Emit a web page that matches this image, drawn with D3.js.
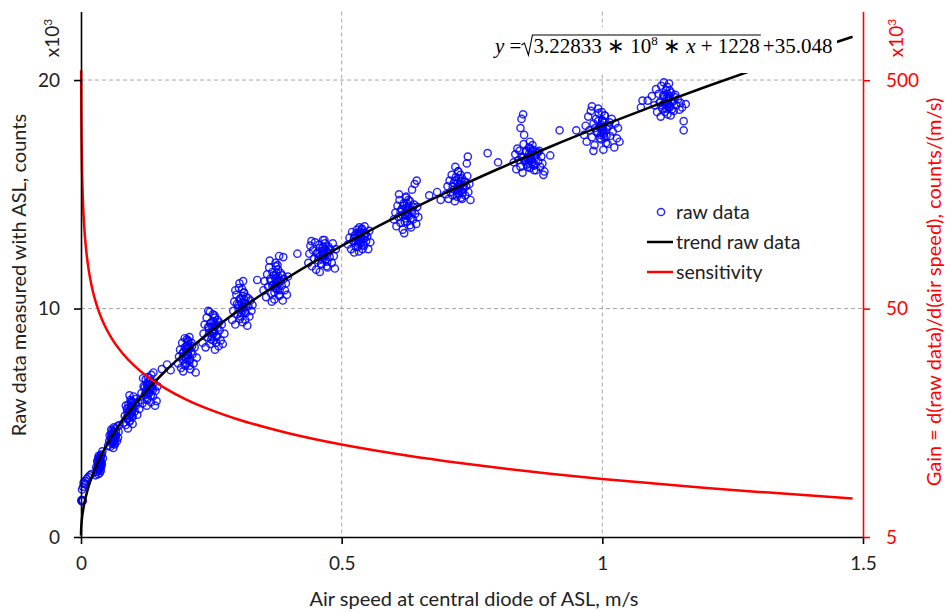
<!DOCTYPE html>
<html>
<head>
<meta charset="utf-8">
<script src="https://cdn.jsdelivr.net/npm/d3@7"></script>
<style>
  body { margin: 0; background: #fff; }
  text { font-family: Lato, "Open Sans", sans-serif; }
  text.eq { font-family: "Liberation Serif", "Times New Roman", serif; font-size: 21px; }
</style>
</head>
<body>
<svg id="chart" width="950" height="612"></svg>
<script>
// air speed (m/s) / raw data (x10^3 counts)
var rawPoints = [
  [0.001,1.58],[0.002,1.60],[0.002,1.57],[0.003,1.61],[0.001,1.62],[0.002,1.59],[0.003,1.58],
  [0.002,2.08],[0.004,2.2],[0.006,2.32],[0.008,2.45],[0.011,2.55],[0.014,2.62],[0.017,2.7],[0.005,2.38],[0.009,2.3],[0.02,2.75],
  [0.028,2.7],[0.030,2.85],[0.031,3.0],[0.033,3.1],[0.034,2.95],[0.035,3.25],[0.036,3.4],[0.037,3.15],[0.038,3.5],[0.039,3.3],
  [0.040,3.6],[0.041,3.75],[0.032,3.35],[0.036,2.8],[0.042,3.45],[0.034,3.55],[0.029,3.05],[0.038,2.9],[0.040,3.2],[0.033,2.75],
  [0.034,3.2],[0.035,3.1],[0.036,3.3],[0.035,3.0],[0.037,3.25],[0.033,3.15],[0.036,3.45],[0.034,2.9],
  [0.031,3.3],[0.039,3.1],[0.037,3.0],[0.033,3.45],[0.035,3.35],[0.038,3.6],[0.032,2.95],
  [0.052,4.0],[0.054,4.2],[0.056,3.95],[0.058,4.35],[0.060,4.5],[0.061,4.15],[0.063,4.6],[0.064,4.3],[0.066,4.75],[0.067,4.45],
  [0.069,4.2],[0.070,4.85],[0.072,4.6],[0.058,4.7],[0.055,4.45],[0.065,4.05],[0.071,4.35],[0.062,3.9],[0.074,4.9],
  [0.061,4.3],[0.063,4.4],[0.062,4.2],[0.060,4.35],[0.064,4.5],[0.062,4.55],[0.065,4.25],[0.059,4.1],
  [0.057,4.25],[0.067,4.6],[0.060,4.65],[0.064,4.1],[0.066,4.35],[0.058,4.5],[0.063,4.8],
  [0.082,5.0],[0.084,5.3],[0.086,4.9],[0.088,5.6],[0.089,5.2],[0.091,5.8],[0.092,5.45],[0.094,5.1],[0.095,6.0],[0.097,5.65],
  [0.098,5.3],[0.100,5.9],[0.101,6.15],[0.103,5.5],[0.105,5.75],[0.106,6.05],[0.108,5.35],[0.110,5.9],[0.090,4.75],[0.086,5.75],
  [0.099,4.95],[0.112,5.6],[0.093,6.2],
  [0.094,5.5],[0.096,5.4],[0.095,5.6],[0.093,5.3],[0.097,5.75],[0.092,5.2],[0.098,5.5],[0.096,5.85],
  [0.089,5.45],[0.101,5.7],[0.091,5.65],[0.099,5.25],[0.097,5.95],[0.093,5.05],[0.103,5.85],[0.087,5.2],
  [0.114,6.0],[0.116,6.3],[0.118,5.85],[0.120,6.6],[0.122,6.2],[0.124,6.9],[0.125,6.45],[0.127,6.0],[0.128,7.0],[0.130,6.65],
  [0.131,6.3],[0.133,6.85],[0.135,7.1],[0.136,6.5],[0.138,6.15],[0.140,6.75],[0.142,5.75],[0.143,6.4],[0.145,5.95],[0.147,6.6],
  [0.119,6.95],[0.126,5.75],[0.134,5.9],[0.139,7.2],
  [0.129,6.4],[0.131,6.5],[0.130,6.3],[0.128,6.6],[0.132,6.7],[0.127,6.25],[0.133,6.45],[0.130,6.8],
  [0.124,6.35],[0.136,6.6],[0.126,6.7],[0.134,6.2],[0.132,6.95],[0.122,6.55],[0.138,6.45],[0.128,6.1],
  [0.155,7.35],[0.165,7.55],[0.172,7.3],
  [0.186,7.6],[0.188,7.9],[0.190,8.2],[0.192,7.4],[0.194,8.5],[0.195,7.75],[0.197,8.1],[0.199,8.7],[0.200,7.5],[0.202,8.35],
  [0.204,7.95],[0.205,8.6],[0.207,7.7],[0.209,8.25],[0.210,7.35],[0.212,8.5],[0.214,8.0],[0.216,7.6],[0.218,8.3],[0.220,7.2],
  [0.222,7.85],[0.196,7.25],[0.208,8.75],
  [0.203,8.0],[0.205,8.1],[0.204,7.85],[0.202,8.2],[0.206,7.95],[0.201,7.8],[0.207,8.3],[0.204,8.4],
  [0.197,7.9],[0.211,8.1],[0.199,8.3],[0.209,7.75],[0.206,8.55],[0.200,7.6],[0.213,8.35],[0.195,8.05],[0.203,8.65],[0.208,7.5],
  [0.233,8.5],[0.235,8.9],[0.237,9.3],[0.239,8.3],[0.241,9.6],[0.243,8.75],[0.245,9.15],[0.247,9.85],[0.248,8.45],[0.250,9.4],
  [0.252,9.0],[0.254,8.6],[0.256,9.7],[0.258,9.25],[0.260,8.8],[0.262,9.5],[0.264,8.35],[0.266,9.05],[0.268,8.6],[0.270,9.3],
  [0.272,8.45],[0.275,8.9],[0.244,9.9],[0.257,8.2],
  [0.253,9.0],[0.255,9.1],[0.254,8.9],[0.252,9.2],[0.256,9.0],[0.251,8.8],[0.257,9.35],[0.254,9.45],
  [0.246,8.95],[0.262,9.15],[0.248,9.35],[0.260,8.75],[0.257,9.6],[0.250,8.65],[0.265,9.4],[0.244,9.2],[0.253,9.75],[0.259,8.5],
  [0.290,9.5],[0.292,9.9],[0.294,10.3],[0.296,9.3],[0.298,10.6],[0.300,9.75],[0.302,10.15],[0.303,10.9],[0.305,9.55],[0.306,10.45],
  [0.308,10.0],[0.310,9.4],[0.312,10.7],[0.313,10.25],[0.315,9.85],[0.317,10.5],[0.319,9.25],[0.321,10.1],[0.323,9.65],[0.325,10.35],
  [0.327,9.9],[0.329,10.15],[0.304,11.1],[0.311,11.2],[0.296,10.8],
  [0.309,10.0],[0.311,10.1],[0.310,9.9],[0.308,10.25],[0.312,10.05],[0.307,9.8],[0.313,10.4],[0.310,10.55],
  [0.302,10.0],[0.318,10.2],[0.304,10.4],[0.316,9.8],[0.313,10.7],[0.306,9.65],[0.321,10.45],[0.299,10.2],[0.309,10.85],[0.315,9.5],
  [0.350,10.8],[0.352,11.2],[0.355,10.5],[0.357,11.5],[0.359,10.95],[0.361,11.8],[0.363,11.3],[0.365,10.65],[0.367,11.6],[0.369,11.05],
  [0.371,10.4],[0.373,11.45],[0.375,10.85],[0.377,11.9],[0.379,11.2],[0.381,10.6],[0.383,11.55],[0.385,11.0],[0.387,10.35],[0.389,11.3],
  [0.391,10.8],[0.393,11.1],[0.395,10.6],[0.397,11.4],[0.362,12.1],[0.366,10.3],
  [0.374,11.1],[0.376,11.2],[0.375,10.95],[0.373,11.3],[0.377,11.05],[0.372,10.9],[0.378,11.4],[0.375,11.55],
  [0.367,11.0],[0.383,11.2],[0.369,11.45],[0.381,10.8],[0.378,11.7],[0.371,10.7],[0.386,11.45],[0.364,11.2],[0.374,11.85],[0.380,10.55],
  [0.338,11.25],[0.373,12.0],[0.388,12.25],[0.415,12.4],[0.380,12.3],
  [0.436,12.0],[0.438,12.4],[0.440,12.75],[0.443,11.85],[0.445,12.55],[0.447,12.2],[0.449,12.9],[0.451,11.7],[0.453,12.45],[0.455,12.1],
  [0.457,12.8],[0.459,12.3],[0.461,11.95],[0.463,12.65],[0.465,12.35],[0.467,13.0],[0.469,12.15],[0.471,12.5],[0.473,11.8],[0.475,12.7],
  [0.477,12.25],[0.479,12.55],[0.481,12.0],[0.483,12.85],[0.485,12.3],[0.487,11.75],[0.489,12.6],[0.442,12.95],[0.458,11.6],
  [0.464,12.35],[0.466,12.45],[0.465,12.2],[0.463,12.5],[0.467,12.3],[0.462,12.15],[0.468,12.6],[0.465,12.7],
  [0.456,12.25],[0.474,12.45],[0.458,12.65],[0.472,12.05],[0.468,12.85],[0.461,11.95],[0.477,12.6],[0.453,12.4],[0.464,13.0],[0.471,11.85],
  [0.512,12.8],[0.515,13.1],[0.518,12.6],[0.520,13.35],[0.522,12.95],[0.525,13.2],[0.527,12.7],[0.529,13.45],[0.531,13.0],[0.533,12.5],
  [0.535,13.25],[0.537,12.85],[0.539,13.5],[0.541,13.05],[0.543,12.75],[0.545,13.3],[0.547,12.95],[0.549,13.15],[0.551,12.6],[0.553,13.4],
  [0.555,12.9],[0.524,12.45],[0.544,13.6],
  [0.534,13.0],[0.536,13.1],[0.535,12.9],[0.533,13.2],[0.537,13.05],[0.532,12.85],[0.538,13.3],[0.535,13.35],
  [0.527,12.95],[0.543,13.15],[0.529,13.3],[0.541,12.8],[0.538,13.45],[0.531,12.7],[0.546,13.25],[0.524,13.1],[0.534,13.55],[0.540,12.6],
  [0.600,13.9],[0.603,14.2],[0.605,13.6],[0.607,14.5],[0.609,14.0],[0.611,14.75],[0.613,13.75],[0.615,14.35],[0.617,13.45],[0.619,14.6],
  [0.621,14.1],[0.623,14.85],[0.625,13.8],[0.627,14.4],[0.629,14.05],[0.631,14.7],[0.633,13.55],[0.635,14.25],[0.637,13.9],[0.639,14.55],
  [0.641,14.15],[0.643,13.7],[0.645,14.45],[0.647,14.0],[0.635,15.2],[0.640,15.45],[0.644,15.6],[0.610,15.0],[0.620,13.3],
  [0.624,14.2],[0.626,14.3],[0.625,14.05],[0.623,14.4],[0.627,14.15],[0.622,13.95],[0.628,14.5],[0.625,14.6],
  [0.616,14.1],[0.634,14.3],[0.618,14.5],[0.632,13.95],[0.628,14.75],[0.621,13.8],[0.637,14.45],[0.613,14.25],[0.624,14.9],[0.631,13.65],
  [0.668,14.95],[0.683,15.1],[0.690,14.75],
  [0.700,15.0],[0.703,15.35],[0.705,14.8],[0.707,15.6],[0.709,15.1],[0.711,15.85],[0.713,14.95],[0.715,15.5],[0.717,14.7],[0.719,15.75],
  [0.721,15.25],[0.723,16.0],[0.725,15.05],[0.727,15.45],[0.729,14.85],[0.731,15.7],[0.733,15.2],[0.735,15.55],[0.737,14.95],[0.739,15.35],
  [0.741,15.8],[0.743,15.1],[0.745,15.45],[0.747,14.75],[0.740,16.35],[0.742,16.65],[0.718,16.2],
  [0.724,15.3],[0.726,15.4],[0.725,15.15],[0.723,15.5],[0.727,15.25],[0.722,15.05],[0.728,15.6],[0.725,15.7],
  [0.716,15.2],[0.734,15.4],[0.718,15.6],[0.732,15.05],[0.728,15.85],[0.721,14.9],[0.737,15.55],[0.713,15.35],[0.724,16.0],[0.731,14.8],
  [0.780,16.8],[0.800,16.4],
  [0.830,16.4],[0.833,16.75],[0.835,16.1],[0.837,17.0],[0.839,16.5],[0.841,16.9],[0.843,16.2],[0.845,16.65],[0.847,15.95],[0.849,17.2],
  [0.851,16.45],[0.853,16.85],[0.855,16.3],[0.857,16.6],[0.859,17.05],[0.861,16.15],[0.863,16.75],[0.865,16.4],[0.867,16.95],[0.869,16.25],
  [0.871,16.6],[0.873,16.05],[0.875,16.8],[0.877,16.45],[0.879,16.9],[0.881,16.2],[0.883,16.65],[0.885,16.35],[0.887,15.85],[0.845,18.3],
  [0.848,18.5],[0.843,17.9],[0.850,17.6],[0.889,16.0],
  [0.861,16.6],[0.863,16.7],[0.862,16.45],[0.860,16.8],[0.864,16.55],[0.859,16.35],[0.865,16.9],[0.862,17.0],[0.858,16.55],[0.866,16.4],
  [0.852,16.5],[0.872,16.7],[0.854,16.9],[0.870,16.3],[0.866,17.15],[0.857,16.2],[0.876,16.85],[0.848,16.6],[0.861,17.3],[0.869,16.05],
  [0.950,17.8],[0.918,17.8],[0.900,16.7],
  [0.965,17.6],[0.968,18.0],[0.970,17.3],[0.973,18.4],[0.975,17.8],[0.978,18.65],[0.980,17.5],[0.983,18.1],[0.985,17.15],[0.988,18.3],
  [0.990,17.7],[0.993,18.55],[0.995,17.95],[0.998,17.4],[1.000,18.2],[1.003,17.65],[1.005,18.45],[1.008,17.85],[1.010,17.2],[1.013,18.0],
  [1.015,17.55],[1.018,18.3],[1.020,17.75],[1.023,17.05],[1.025,18.1],[1.028,17.45],[1.030,17.9],[1.033,17.3],[0.980,18.85],[0.992,18.75],
  [0.983,16.9],[1.002,16.95],
  [0.999,17.85],[1.001,17.95],[1.000,17.7],[0.998,18.05],[1.002,17.8],[0.997,17.6],[1.003,18.15],[1.000,18.25],[0.996,17.9],[1.004,17.5],
  [0.990,17.75],[1.010,17.95],[0.992,18.2],[1.008,17.55],[1.004,18.45],[0.995,17.45],[1.014,18.15],[0.986,17.9],[0.999,18.6],[1.007,17.25],
  [1.074,18.8],[1.077,19.1],[1.087,19.1],[1.095,19.3],[1.100,18.9],[1.103,19.6],[1.105,18.6],[1.108,19.4],[1.110,19.0],[1.113,19.75],
  [1.115,18.75],[1.118,19.3],[1.120,18.95],[1.122,19.55],[1.125,18.5],[1.127,19.2],[1.130,18.85],[1.132,19.45],[1.135,19.05],[1.137,18.65],
  [1.140,19.35],[1.142,18.9],[1.145,19.15],[1.148,18.7],[1.150,19.0],[1.153,18.8],[1.156,18.2],[1.156,17.8],[1.118,19.9],[1.128,19.85],
  [1.160,18.95],[1.112,18.4],
  [1.124,19.0],[1.126,19.1],[1.125,18.85],[1.123,19.2],[1.127,18.95],[1.122,18.75],[1.128,19.3],[1.125,19.4],[1.121,19.05],[1.129,18.8],
  [1.115,18.9],[1.135,19.1],[1.117,19.35],[1.133,18.7],[1.129,19.55],[1.120,18.6],[1.139,19.25],[1.111,19.05],[1.124,19.7],[1.131,18.45]
];

// trend and its slope, tabulated from the equation printed on the chart
var curveSpeed = [0, 0.00005, 0.0001, 0.00026, 0.0005, 0.001, 0.0015, 0.002, 0.003, 0.004, 0.005, 0.007, 0.01, 0.015, 0.02,
  0.03, 0.04, 0.05, 0.06, 0.08, 0.1, 0.13, 0.16, 0.2, 0.25, 0.3, 0.35, 0.4, 0.5, 0.6, 0.7, 0.8, 0.9, 1.0, 1.1, 1.2, 1.3, 1.4, 1.48];
var trendCounts = [0.070, 0.167, 0.218, 0.327, 0.438, 0.604, 0.732, 0.839, 1.020, 1.172, 1.306, 1.539, 1.832, 2.236, 2.576,
  3.147, 3.629, 4.053, 4.436, 5.117, 5.717, 6.513, 7.222, 8.070, 9.019, 9.876, 10.665, 11.399, 12.740, 13.953, 15.068, 16.106,
  17.081, 18.003, 18.880, 19.718, 20.521, 21.295, 21.894];
var gainValues = [null, null, null, 553.1, 400.2, 283.6, 231.7, 200.7, 163.9, 142.0, 127.0, 107.3, 89.8, 73.3, 63.5,
  51.9, 44.9, 40.2, 36.7, 31.8, 28.4, 24.9, 22.5, 20.1, 17.97, 16.40, 15.19, 14.20, 12.70, 11.60, 10.74, 10.04,
  9.47, 8.98, 8.57, 8.20, 7.88, 7.59, 7.38];

var speedTicks = [0, 0.5, 1, 1.5];
var countTicks = [0, 10, 20];
var gainTicks = [5, 50, 500];
var legendItems = ['raw data', 'trend raw data', 'sensitivity'];

var svg = d3.select('svg#chart');

var x = d3.scaleLinear().domain([0, 1.5]).range([81, 863]);
var yLeft = d3.scaleLinear().domain([0, 23]).range([537, 11.5]);
var yRight = d3.scaleLog().domain([5, 1000]).range([537, 11.5]);

var RED = '#ff0000';
var BLUE = '#0000ff';

// grid
svg.append('g')
  .selectAll('line')
  .data(countTicks.filter(function (d) { return d > 0; }))
  .enter()
  .append('line')
    .attr('x1', x(0)).attr('x2', x(1.5))
    .attr('y1', function (d) { return yLeft(d); })
    .attr('y2', function (d) { return yLeft(d); })
    .style('stroke', '#a6a6a6')
    .style('stroke-dasharray', '4,3');

svg.append('g')
  .selectAll('line')
  .data([0.5, 1])
  .enter()
  .append('line')
    .attr('x1', function (d) { return x(d); })
    .attr('x2', function (d) { return x(d); })
    .attr('y1', yLeft(23)).attr('y2', yLeft(0))
    .style('stroke', '#a6a6a6')
    .style('stroke-dasharray', '4,3');

// raw data
svg.append('g')
  .selectAll('circle')
  .data(rawPoints)
  .enter()
  .append('circle')
    .attr('cx', function (d) { return x(d[0]); })
    .attr('cy', function (d) { return yLeft(d[1]); })
    .attr('r', 3.6)
    .style('fill', 'none')
    .style('stroke', BLUE)
    .style('stroke-opacity', 0.85)
    .style('stroke-width', 1.45);

var curve = curveSpeed.map(function (s, i) {
  return { s: s, trend: trendCounts[i], gain: gainValues[i] };
});

svg.append('path')
  .datum(curve)
  .attr('d', d3.line()
    .x(function (d) { return x(d.s); })
    .y(function (d) { return yLeft(d.trend); })
    .curve(d3.curveMonotoneX))
  .style('fill', 'none')
  .style('stroke', '#000')
  .style('stroke-width', 2.5);

svg.append('path')
  .datum(curve)
  .attr('d', d3.line()
    .defined(function (d) { return d.gain != null; })
    .x(function (d) { return x(d.s); })
    .y(function (d) { return yRight(d.gain); })
    .curve(d3.curveMonotoneX))
  .style('fill', 'none')
  .style('stroke', RED)
  .style('stroke-width', 2.5);

// axes
var axisLeft = svg.append('g')
  .attr('transform', 'translate(' + x(0) + ',0)')
  .call(d3.axisLeft(yLeft).tickValues(countTicks).tickSize(7).tickSizeOuter(0).tickPadding(14));

var axisBottom = svg.append('g')
  .attr('transform', 'translate(0,' + yLeft(0) + ')')
  .call(d3.axisBottom(x).tickValues(speedTicks).tickSize(7).tickSizeOuter(0).tickPadding(13)
    .tickFormat(function (d) { return d3.format('')(d); }));

var axisRight = svg.append('g')
  .attr('transform', 'translate(' + x(1.5) + ',0)')
  .call(d3.axisRight(yRight).tickValues(gainTicks).tickSize(7).tickSizeOuter(0).tickPadding(16)
    .tickFormat(d3.format('d')));

[axisLeft, axisBottom].forEach(function (a) {
  a.select('.domain').style('stroke', '#000').style('stroke-width', 1.6);
  a.selectAll('.tick line').style('stroke', '#000').style('stroke-width', 1.6);
  a.selectAll('text').style('font-size', '19px').style('fill', '#222').style('font-family', 'Lato');
});
axisRight.select('.domain').style('stroke', RED).style('stroke-width', 1.6);
axisRight.selectAll('.tick line').style('stroke', RED).style('stroke-width', 1.6);
axisRight.selectAll('text').style('font-size', '19px').style('fill', RED).style('font-family', 'Lato');

// axis titles
svg.append('text')
  .attr('transform', 'translate(26,275) rotate(-90)')
  .attr('text-anchor', 'middle')
  .style('font-size', '20px')
  .style('fill', '#222')
  .text('Raw data measured with ASL, counts');

svg.append('text')
  .attr('transform', 'translate(941,292) rotate(-90)')
  .attr('text-anchor', 'middle')
  .style('font-size', '20px')
  .style('fill', RED)
  .text('Gain = d(raw data)/d(air speed), counts/(m/s)');

svg.append('text')
  .attr('x', 474)
  .attr('y', 606)
  .attr('text-anchor', 'middle')
  .style('font-size', '20px')
  .style('fill', '#222')
  .text('Air speed at central diode of ASL, m/s');

// x10^3 multipliers
[{ cx: 59, color: '#222' }, { cx: 903, color: RED }].forEach(function (m) {
  var t = svg.append('text')
    .attr('transform', 'translate(' + m.cx + ',38) rotate(-90)')
    .attr('text-anchor', 'middle')
    .style('font-size', '19px')
    .style('fill', m.color);
  t.append('tspan').text('x10');
  t.append('tspan').attr('dy', -7).style('font-size', '12px').text('3');
});

// equation, on a white box
svg.append('rect')
  .attr('x', 490).attr('y', 27)
  .attr('width', 347).attr('height', 46)
  .style('fill', '#fff');

var eq = svg.append('g');
var base = 53;
var lead = eq.append('text').attr('class', 'eq').attr('x', 495).attr('y', base);
lead.append('tspan').style('font-style', 'italic').text('y');
lead.append('tspan').text(' = ');
var rx = 495 + lead.node().getComputedTextLength();

var radicand = eq.append('text').attr('class', 'eq').attr('x', rx + 12).attr('y', base);
radicand.append('tspan').text('3.22833 \u2217 10');
radicand.append('tspan').attr('dy', -8).style('font-size', '13px').text('8');
radicand.append('tspan').attr('dy', 8).text(' \u2217 ');
radicand.append('tspan').style('font-style', 'italic').text('x');
radicand.append('tspan').text(' + 1228');
var rEnd = rx + 12 + radicand.node().getComputedTextLength() + 1;

eq.append('path')
  .attr('d', 'M' + rx + ',' + (base - 8) + 'L' + (rx + 3) + ',' + (base - 10) +
    'L' + (rx + 7) + ',' + (base + 2) + 'L' + (rx + 11) + ',' + (base - 18) + 'L' + rEnd + ',' + (base - 18))
  .style('fill', 'none')
  .style('stroke', '#000')
  .style('stroke-width', 1.1);

eq.append('text')
  .attr('class', 'eq')
  .attr('x', rEnd + 2)
  .attr('y', base)
  .text('+35.048');

// legend
var legend = svg.append('g');
legendItems.forEach(function (name, i) {
  var ly = 212 + i * 30;
  if (i === 0) {
    legend.append('circle')
      .attr('cx', 661).attr('cy', ly).attr('r', 3.6)
      .style('fill', 'none').style('stroke', BLUE).style('stroke-opacity', 0.85).style('stroke-width', 1.45);
  } else {
    legend.append('line')
      .attr('x1', 647).attr('x2', 673)
      .attr('y1', ly).attr('y2', ly)
      .style('stroke', i === 1 ? '#000' : RED)
      .style('stroke-width', 2.5);
  }
  legend.append('text')
    .attr('x', 676)
    .attr('y', ly + 7)
    .style('font-size', '19.5px')
    .style('fill', '#222')
    .text(name);
});
</script>
</body>
</html>
